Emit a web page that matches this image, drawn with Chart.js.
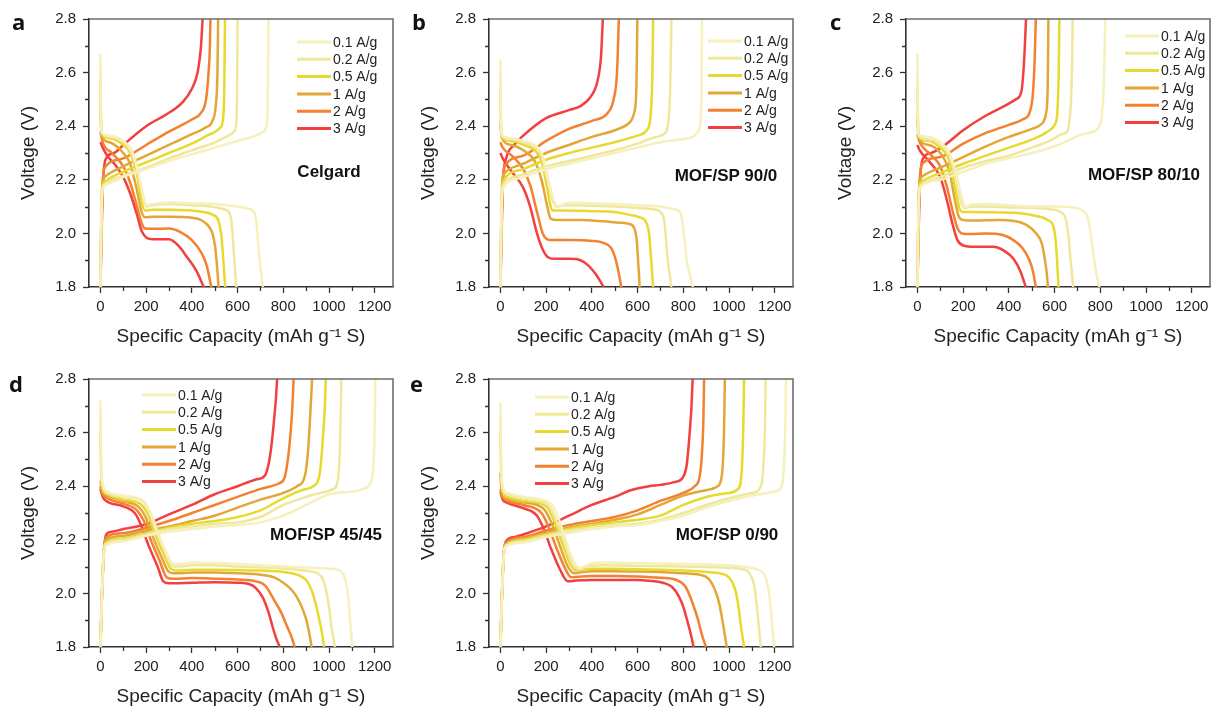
<!DOCTYPE html>
<html>
<head>
<meta charset="utf-8">
<script src="https://cdn.jsdelivr.net/npm/chart.js@4.4.1/dist/chart.umd.min.js"></script>
<style>
  html, body { margin: 0; padding: 0; background: #fff; overflow: hidden; }
  #fig { position: relative; width: 1211px; height: 709px; }
  .panel { position: absolute; width: 400px; height: 350px; }
  .letter { position: absolute; font-family: "Open Sans", sans-serif; font-weight: 700; font-size: 22px; line-height: 22px; color: #111; }
  .sample { position: absolute; font-family: "Liberation Sans", Arial, sans-serif; font-weight: 700; font-size: 17px; color: #111; transform: translate(-50%, -50%); white-space: nowrap; }
</style>
</head>
<body>
<div id="fig">
  <div class="panel" style="left:0px;top:0px"><canvas id="cA" width="400" height="350"></canvas></div>
  <div class="panel" style="left:400px;top:0px"><canvas id="cB" width="400" height="350"></canvas></div>
  <div class="panel" style="left:817px;top:0px"><canvas id="cC" width="400" height="350"></canvas></div>
  <div class="panel" style="left:0px;top:360px"><canvas id="cD" width="400" height="350"></canvas></div>
  <div class="panel" style="left:400px;top:360px"><canvas id="cE" width="400" height="350"></canvas></div>

  <div class="letter" style="left:12px;top:10px">a</div>
  <div class="letter" style="left:412px;top:10px">b</div>
  <div class="letter" style="left:830px;top:10px">c</div>
  <div class="letter" style="left:9px;top:372px">d</div>
  <div class="letter" style="left:410px;top:372px">e</div>

  <div class="sample" style="left:329px;top:172px">Celgard</div>
  <div class="sample" style="left:726px;top:176px">MOF/SP 90/0</div>
  <div class="sample" style="left:1144px;top:175px">MOF/SP 80/10</div>
  <div class="sample" style="left:326px;top:535px">MOF/SP 45/45</div>
  <div class="sample" style="left:727px;top:535px">MOF/SP 0/90</div>
</div>

<script>
const rates = ['0.1 A/g', '0.2 A/g', '0.5 A/g', '1 A/g', '2 A/g', '3 A/g'];
const xTicks = [0, 200, 400, 600, 800, 1000, 1200];
const xMinor = [100, 300, 500, 700, 900, 1100];
const yTicks = [1.8, 2.0, 2.2, 2.4, 2.6, 2.8];
const yMinor = [1.9, 2.1, 2.3, 2.5, 2.7];

// a - Celgard
const celgardDis = [
  [[0,2.67],[2,2.45],[6,2.38],[40,2.365],[100,2.345],[130,2.32],[160,2.25],[185,2.15],[200,2.105],[230,2.11],[300,2.115],[400,2.112],[500,2.11],[600,2.1],[655,2.09],[675,2.075],[685,2.02],[693,1.93],[702,1.86],[711,1.8]],
  [[0,2.62],[2,2.45],[6,2.375],[40,2.36],[100,2.34],[130,2.31],[160,2.24],[185,2.14],[200,2.1],[230,2.105],[300,2.11],[400,2.105],[480,2.1],[540,2.09],[565,2.075],[575,2.03],[582,1.95],[589,1.86],[595,1.8]],
  [[0,2.58],[2,2.43],[6,2.37],[40,2.355],[100,2.33],[130,2.3],[160,2.22],[180,2.12],[195,2.085],[230,2.088],[300,2.088],[400,2.085],[450,2.08],[490,2.07],[515,2.05],[528,2.0],[536,1.92],[541,1.86],[546,1.8]],
  [[0,2.49],[3,2.4],[8,2.36],[40,2.34],[100,2.3],[130,2.26],[160,2.16],[180,2.08],[195,2.06],[230,2.062],[300,2.062],[400,2.058],[440,2.05],[470,2.03],[490,2.0],[502,1.95],[510,1.88],[517,1.8]],
  [[0,2.38],[10,2.34],[50,2.3],[100,2.25],[130,2.19],[160,2.1],[180,2.04],[195,2.018],[230,2.017],[300,2.018],[350,2.005],[400,1.975],[440,1.93],[465,1.88],[485,1.8]],
  [[0,2.34],[10,2.32],[30,2.29],[70,2.25],[100,2.21],[130,2.15],[160,2.07],[180,2.01],[200,1.985],[230,1.978],[300,1.978],[340,1.955],[380,1.91],[420,1.86],[452,1.8]]
];
const celgardChg = [
  [[0,1.8],[3,2.0],[8,2.15],[15,2.175],[50,2.19],[100,2.21],[200,2.24],[300,2.27],[400,2.295],[500,2.32],[600,2.345],[680,2.365],[715,2.38],[728,2.41],[732,2.5],[735,2.8]],
  [[0,1.8],[3,2.0],[8,2.16],[15,2.18],[100,2.215],[200,2.245],[300,2.28],[400,2.31],[500,2.34],[560,2.365],[585,2.38],[595,2.42],[598,2.55],[600,2.8]],
  [[0,1.8],[3,2.0],[8,2.17],[15,2.19],[100,2.23],[200,2.265],[300,2.3],[400,2.335],[480,2.37],[525,2.395],[538,2.44],[542,2.55],[545,2.8]],
  [[0,1.8],[3,2.0],[8,2.18],[18,2.21],[100,2.25],[200,2.29],[300,2.33],[400,2.37],[460,2.395],[490,2.42],[505,2.48],[512,2.6],[515,2.8]],
  [[0,1.8],[4,2.0],[10,2.2],[22,2.25],[100,2.28],[200,2.33],[300,2.38],[400,2.425],[440,2.45],[462,2.5],[473,2.6],[479,2.7],[481,2.8]],
  [[0,1.8],[5,2.0],[12,2.2],[25,2.28],[60,2.3],[100,2.33],[200,2.4],[300,2.45],[360,2.49],[400,2.54],[425,2.6],[440,2.7],[447,2.8]]
];

// b - MOF/SP 90/0
const mof900Dis = [
  [[0,2.65],[2,2.45],[6,2.37],[50,2.355],[100,2.345],[150,2.33],[180,2.3],[210,2.2],[235,2.12],[250,2.1],[280,2.11],[320,2.115],[400,2.112],[500,2.11],[600,2.105],[700,2.1],[760,2.09],[785,2.08],[795,2.05],[805,1.98],[815,1.9],[828,1.85],[842,1.8]],
  [[0,2.6],[2,2.43],[6,2.365],[50,2.35],[100,2.34],[150,2.32],[180,2.29],[205,2.2],[230,2.12],[245,2.1],[280,2.105],[400,2.103],[500,2.1],[600,2.095],[670,2.09],[705,2.075],[718,2.04],[725,1.97],[732,1.9],[740,1.85],[748,1.8]],
  [[0,2.55],[2,2.42],[6,2.36],[50,2.345],[100,2.33],[150,2.31],[180,2.27],[200,2.19],[220,2.1],[230,2.085],[260,2.085],[400,2.083],[500,2.08],[560,2.07],[610,2.06],[635,2.045],[650,2.0],[658,1.92],[663,1.86],[668,1.8]],
  [[0,2.41],[5,2.36],[50,2.33],[100,2.31],[150,2.27],[180,2.2],[205,2.1],[220,2.055],[250,2.05],[350,2.05],[450,2.045],[520,2.04],[565,2.035],[585,2.02],[597,1.97],[602,1.9],[606,1.85],[609,1.8]],
  [[0,2.34],[10,2.32],[50,2.29],[100,2.24],[130,2.18],[160,2.08],[185,2.0],[205,1.978],[230,1.975],[300,1.975],[400,1.972],[450,1.965],[485,1.945],[505,1.9],[518,1.85],[529,1.8]],
  [[0,2.3],[10,2.28],[50,2.23],[100,2.17],[130,2.1],[160,2.0],[185,1.94],[210,1.91],[240,1.905],[300,1.905],[350,1.9],[385,1.88],[415,1.85],[452,1.8]]
];
const mof900Chg = [
  [[0,1.8],[3,2.0],[8,2.15],[15,2.175],[100,2.21],[200,2.24],[300,2.26],[400,2.28],[500,2.3],[600,2.32],[700,2.34],[780,2.35],[840,2.36],[865,2.38],[876,2.42],[880,2.55],[882,2.8]],
  [[0,1.8],[3,2.0],[8,2.16],[15,2.185],[100,2.22],[200,2.25],[300,2.27],[400,2.29],[500,2.31],[600,2.335],[680,2.36],[715,2.37],[735,2.42],[743,2.55],[748,2.8]],
  [[0,1.8],[3,2.0],[8,2.17],[15,2.2],[100,2.24],[200,2.275],[300,2.3],[400,2.32],[500,2.34],[600,2.365],[640,2.385],[658,2.45],[665,2.6],[668,2.8]],
  [[0,1.8],[3,2.0],[8,2.19],[18,2.225],[100,2.26],[200,2.3],[300,2.33],[400,2.36],[500,2.385],[560,2.41],[585,2.45],[595,2.55],[599,2.8]],
  [[0,1.8],[4,2.0],[10,2.2],[22,2.255],[100,2.29],[200,2.345],[300,2.39],[400,2.42],[470,2.45],[495,2.5],[510,2.6],[518,2.8]],
  [[0,1.8],[5,2.0],[12,2.2],[25,2.28],[60,2.33],[100,2.365],[200,2.43],[300,2.46],[350,2.475],[395,2.51],[425,2.57],[440,2.66],[448,2.8]]
];

// c - MOF/SP 80/10
const mof8010Dis = [
  [[0,2.67],[2,2.45],[6,2.37],[50,2.36],[100,2.34],[140,2.3],[170,2.22],[195,2.13],[210,2.1],[240,2.108],[300,2.11],[400,2.105],[500,2.1],[600,2.1],[690,2.095],[725,2.085],[745,2.06],[758,2.0],[770,1.92],[783,1.85],[796,1.8]],
  [[0,2.6],[2,2.44],[6,2.365],[50,2.35],[100,2.33],[140,2.29],[170,2.2],[190,2.12],[205,2.095],[240,2.1],[300,2.1],[400,2.097],[500,2.095],[580,2.09],[625,2.08],[650,2.05],[662,1.98],[670,1.9],[676,1.85],[681,1.8]],
  [[0,2.56],[2,2.42],[6,2.36],[50,2.345],[100,2.32],[140,2.27],[165,2.17],[185,2.09],[200,2.08],[240,2.08],[350,2.078],[450,2.075],[520,2.065],[570,2.05],[595,2.025],[605,1.97],[611,1.9],[614,1.85],[617,1.8]],
  [[0,2.43],[5,2.36],[50,2.33],[100,2.3],[140,2.23],[165,2.12],[180,2.065],[200,2.05],[250,2.048],[350,2.05],[430,2.045],[480,2.03],[520,2.0],[545,1.96],[558,1.9],[566,1.85],[571,1.8]],
  [[0,2.37],[10,2.34],[50,2.3],[100,2.25],[130,2.17],[155,2.08],[175,2.02],[195,2.0],[230,1.998],[300,2.0],[370,1.995],[420,1.975],[460,1.945],[490,1.9],[505,1.86],[518,1.8]],
  [[0,2.33],[10,2.31],[50,2.27],[100,2.21],[130,2.12],[155,2.03],[175,1.975],[200,1.955],[250,1.95],[330,1.95],[380,1.935],[420,1.905],[450,1.86],[474,1.8]]
];
const mof8010Chg = [
  [[0,1.8],[3,2.0],[8,2.15],[15,2.175],[100,2.2],[200,2.23],[300,2.26],[400,2.28],[500,2.3],[600,2.325],[680,2.355],[720,2.37],[770,2.38],[795,2.4],[808,2.45],[815,2.55],[820,2.7],[822,2.8]],
  [[0,1.8],[3,2.0],[8,2.16],[15,2.18],[100,2.21],[200,2.245],[300,2.27],[400,2.29],[500,2.32],[590,2.35],[630,2.37],[655,2.38],[665,2.42],[672,2.5],[677,2.65],[679,2.8]],
  [[0,1.8],[3,2.0],[8,2.17],[15,2.19],[100,2.225],[200,2.26],[300,2.29],[400,2.32],[500,2.35],[570,2.38],[600,2.405],[612,2.45],[618,2.6],[621,2.8]],
  [[0,1.8],[3,2.0],[8,2.18],[18,2.21],[100,2.245],[200,2.285],[300,2.325],[400,2.36],[500,2.39],[545,2.41],[563,2.45],[570,2.55],[573,2.8]],
  [[0,1.8],[4,2.0],[10,2.2],[22,2.26],[100,2.285],[200,2.335],[300,2.375],[400,2.405],[460,2.425],[490,2.45],[505,2.52],[513,2.65],[518,2.8]],
  [[0,1.8],[5,2.0],[12,2.2],[25,2.28],[60,2.3],[120,2.33],[200,2.385],[300,2.44],[380,2.475],[430,2.5],[455,2.53],[465,2.62],[470,2.7],[475,2.8]]
];

// d - MOF/SP 45/45
const mof4545Dis = [
  [[0,2.72],[3,2.5],[10,2.41],[30,2.38],[100,2.365],[190,2.345],[220,2.3],[250,2.23],[290,2.15],[320,2.11],[350,2.11],[400,2.115],[500,2.113],[600,2.11],[700,2.105],[800,2.1],[900,2.097],[1000,2.092],[1040,2.088],[1060,2.075],[1075,2.04],[1085,1.98],[1090,1.92],[1096,1.86],[1102,1.8]],
  [[0,2.68],[3,2.48],[10,2.4],[30,2.375],[100,2.36],[190,2.34],[215,2.3],[245,2.23],[285,2.15],[315,2.1],[340,2.1],[400,2.105],[500,2.105],[600,2.1],[700,2.097],[800,2.093],[900,2.085],[950,2.075],[975,2.05],[990,2.0],[1000,1.95],[1010,1.88],[1018,1.84],[1026,1.8]],
  [[0,2.6],[3,2.45],[10,2.39],[30,2.37],[100,2.35],[180,2.33],[210,2.29],[240,2.22],[280,2.14],[310,2.09],[340,2.085],[400,2.088],[500,2.088],[600,2.087],[700,2.085],[800,2.08],[860,2.07],[900,2.05],[925,2.01],[942,1.96],[958,1.9],[970,1.85],[978,1.8]],
  [[0,2.42],[10,2.38],[30,2.365],[100,2.345],[170,2.32],[200,2.28],[230,2.21],[270,2.13],[300,2.08],[330,2.075],[400,2.078],[500,2.078],[600,2.075],[700,2.07],[760,2.06],[800,2.04],[840,2.01],[870,1.97],[898,1.91],[912,1.86],[924,1.8]],
  [[0,2.4],[10,2.37],[30,2.355],[100,2.335],[160,2.31],[190,2.27],[220,2.2],[260,2.12],[290,2.06],[320,2.055],[400,2.057],[500,2.055],[600,2.052],[680,2.045],[720,2.03],[760,1.975],[790,1.93],[815,1.88],[835,1.84],[850,1.8]],
  [[0,2.39],[10,2.36],[25,2.345],[100,2.325],[150,2.3],[175,2.26],[210,2.18],[250,2.1],[275,2.045],[300,2.038],[400,2.04],[500,2.042],[600,2.04],[650,2.035],[680,2.02],[710,1.985],[735,1.93],[755,1.87],[770,1.83],[785,1.8]]
];
const mof4545Chg = [
  [[0,1.8],[5,1.95],[15,2.15],[25,2.18],[100,2.195],[200,2.215],[300,2.23],[400,2.24],[500,2.25],[600,2.255],[700,2.265],[800,2.29],[900,2.33],[1000,2.37],[1100,2.38],[1150,2.39],[1180,2.41],[1192,2.45],[1198,2.55],[1201,2.7],[1202,2.8]],
  [[0,1.8],[5,1.95],[15,2.16],[25,2.185],[100,2.2],[200,2.22],[300,2.24],[400,2.25],[500,2.26],[600,2.265],[700,2.285],[800,2.33],[900,2.36],[960,2.375],[1020,2.39],[1040,2.43],[1048,2.55],[1052,2.7],[1054,2.8]],
  [[0,1.8],[5,1.95],[15,2.16],[25,2.19],[100,2.205],[200,2.225],[300,2.245],[400,2.26],[500,2.27],[600,2.285],[700,2.31],[800,2.355],[880,2.385],[930,2.4],[960,2.45],[975,2.6],[982,2.7],[986,2.8]],
  [[0,1.8],[5,1.95],[15,2.16],[25,2.2],[100,2.215],[200,2.235],[300,2.25],[400,2.27],[500,2.29],[600,2.32],[700,2.35],[800,2.375],[860,2.4],[895,2.44],[910,2.55],[920,2.7],[926,2.8]],
  [[0,1.8],[5,1.95],[15,2.16],[25,2.21],[100,2.225],[200,2.245],[300,2.27],[400,2.3],[500,2.33],[600,2.36],[700,2.39],[780,2.41],[805,2.43],[820,2.5],[832,2.6],[840,2.7],[845,2.8]],
  [[0,1.8],[5,1.95],[15,2.15],[25,2.22],[50,2.23],[100,2.24],[200,2.258],[300,2.295],[400,2.33],[500,2.37],[600,2.4],[680,2.425],[720,2.44],[735,2.48],[748,2.55],[760,2.65],[768,2.73],[773,2.8]]
];

// e - MOF/SP 0/90
const mof090Dis = [
  [[0,2.71],[3,2.5],[10,2.4],[30,2.375],[100,2.36],[220,2.335],[250,2.29],[285,2.2],[320,2.12],[350,2.095],[390,2.11],[450,2.115],[600,2.113],[800,2.11],[1000,2.105],[1050,2.1],[1120,2.09],[1150,2.075],[1170,2.03],[1182,1.95],[1190,1.87],[1197,1.8]],
  [[0,2.66],[3,2.48],[10,2.39],[30,2.37],[100,2.355],[210,2.33],[240,2.28],[275,2.2],[315,2.11],[345,2.09],[380,2.1],[450,2.105],[600,2.103],[800,2.1],[1000,2.095],[1060,2.09],[1090,2.075],[1110,2.03],[1122,1.95],[1130,1.88],[1139,1.8]],
  [[0,2.6],[3,2.45],[10,2.38],[30,2.36],[100,2.345],[200,2.325],[230,2.28],[265,2.2],[305,2.11],[335,2.085],[370,2.09],[400,2.092],[500,2.092],[600,2.09],[700,2.088],[800,2.085],[900,2.08],[960,2.075],[1000,2.06],[1025,2.02],[1040,1.96],[1052,1.88],[1066,1.8]],
  [[0,2.45],[3,2.4],[10,2.37],[30,2.355],[100,2.34],[190,2.315],[220,2.27],[255,2.19],[295,2.1],[325,2.075],[360,2.08],[400,2.083],[500,2.083],[600,2.082],[700,2.08],[800,2.075],[870,2.07],[910,2.055],[940,2.01],[958,1.96],[975,1.88],[990,1.8]],
  [[0,2.39],[10,2.36],[30,2.345],[100,2.33],[180,2.3],[210,2.25],[245,2.17],[285,2.09],[310,2.06],[340,2.062],[400,2.065],[500,2.065],[600,2.063],[700,2.058],[770,2.05],[810,2.025],[840,1.965],[865,1.9],[880,1.85],[899,1.8]],
  [[0,2.38],[10,2.35],[26,2.34],[100,2.318],[160,2.29],[190,2.24],[220,2.17],[260,2.09],[295,2.045],[330,2.048],[400,2.05],[500,2.05],[600,2.05],[650,2.047],[710,2.04],[750,2.025],[780,1.99],[800,1.95],[820,1.89],[835,1.84],[845,1.8]]
];
const mof090Chg = [
  [[0,1.8],[5,1.95],[15,2.14],[25,2.175],[100,2.19],[200,2.21],[300,2.225],[400,2.24],[500,2.25],[600,2.255],[700,2.27],[800,2.29],[900,2.32],[1000,2.345],[1100,2.365],[1200,2.38],[1230,2.4],[1242,2.5],[1247,2.65],[1249,2.8]],
  [[0,1.8],[5,1.95],[15,2.15],[25,2.18],[100,2.195],[200,2.215],[300,2.235],[400,2.245],[500,2.255],[600,2.26],[700,2.275],[800,2.3],[900,2.33],[1000,2.355],[1100,2.375],[1140,2.4],[1152,2.5],[1158,2.65],[1160,2.8]],
  [[0,1.8],[5,1.95],[15,2.15],[25,2.18],[100,2.2],[200,2.22],[300,2.24],[400,2.255],[500,2.265],[600,2.275],[700,2.29],[800,2.33],[900,2.36],[1000,2.375],[1040,2.39],[1055,2.45],[1062,2.6],[1066,2.8]],
  [[0,1.8],[5,1.95],[15,2.15],[25,2.185],[100,2.205],[200,2.225],[300,2.245],[400,2.26],[500,2.275],[600,2.295],[700,2.33],[800,2.365],[900,2.385],[950,2.4],[970,2.45],[978,2.6],[982,2.8]],
  [[0,1.8],[5,1.95],[15,2.15],[25,2.19],[100,2.21],[200,2.235],[300,2.255],[400,2.27],[500,2.285],[600,2.31],[700,2.345],[800,2.375],[850,2.4],[870,2.43],[880,2.5],[888,2.65],[891,2.8]],
  [[0,1.8],[5,1.95],[15,2.15],[25,2.195],[60,2.21],[100,2.22],[200,2.25],[300,2.29],[400,2.33],[500,2.36],[570,2.385],[650,2.4],[700,2.405],[760,2.415],[800,2.435],[815,2.48],[828,2.6],[836,2.7],[841,2.8]]
];

const colors = ['#f6f0bd', '#f0e79b', '#e6da2e', '#e3a737', '#f3812f', '#f33f3f'];
const FONT = '"Liberation Sans", Arial, sans-serif';

// frame, minor ticks and the inside legend
const deco = {
  id: 'deco',
  afterDraw(chart, args, opts) {
    const {ctx, chartArea: a, scales: {x, y}} = chart;
    ctx.save();
    ctx.strokeStyle = '#6e6e6e';
    ctx.lineWidth = 1.6;
    ctx.beginPath();
    ctx.moveTo(a.left, a.top);
    ctx.lineTo(a.right, a.top);
    ctx.lineTo(a.right, a.bottom);
    ctx.stroke();

    ctx.strokeStyle = '#333';
    ctx.lineWidth = 1.3;
    ctx.beginPath();
    xMinor.forEach(v => {
      const px = Math.round(x.getPixelForValue(v)) + 0.5;
      ctx.moveTo(px, a.bottom);
      ctx.lineTo(px, a.bottom + 4);
    });
    yMinor.forEach(v => {
      const py = Math.round(y.getPixelForValue(v)) + 0.5;
      ctx.moveTo(a.left, py);
      ctx.lineTo(a.left - 4, py);
    });
    ctx.stroke();

    ctx.font = '14px ' + FONT;
    ctx.textBaseline = 'middle';
    ctx.fillStyle = '#222';
    rates.forEach((r, i) => {
      const ly = opts.y + i * 17.3;
      ctx.strokeStyle = colors[i];
      ctx.lineWidth = 3;
      ctx.beginPath();
      ctx.moveTo(opts.x, ly);
      ctx.lineTo(opts.x + 34, ly);
      ctx.stroke();
      ctx.fillText(r, opts.x + 36, ly + 1);
    });
    ctx.restore();
  }
};

function makePanel(id, dis, chg, legendPos) {
  const datasets = [];
  rates.forEach((r, i) => {
    [dis[i], chg[i]].forEach(curve => {
      datasets.push({
        label: r,
        data: curve.map(p => ({x: p[0], y: p[1]})),
        borderColor: colors[i],
        borderWidth: 2.5,
        pointRadius: 0,
        fill: false,
        cubicInterpolationMode: 'monotone'
      });
    });
  });

  return new Chart(document.getElementById(id), {
    type: 'line',
    data: {datasets},
    plugins: [deco],
    options: {
      responsive: false,
      animation: false,
      layout: {padding: {top: 19, right: 7, left: 0, bottom: 2}},
      plugins: {
        legend: {display: false},
        tooltip: {enabled: false},
        deco: legendPos
      },
      scales: {
        x: {
          type: 'linear',
          min: -50,
          max: 1280,
          afterBuildTicks: s => { s.ticks = xTicks.map(v => ({value: v})); },
          afterFit: s => { s.height = 61; },
          grid: {drawOnChartArea: false, drawTicks: true, tickLength: 6, tickWidth: 1.3, tickColor: '#333'},
          border: {color: '#333', width: 1.6},
          ticks: {font: {family: FONT, size: 15}, color: '#222', padding: 5, maxRotation: 0, autoSkip: false, callback: v => String(v)},
          title: {display: true, text: 'Specific Capacity (mAh g⁻¹ S)', font: {family: FONT, size: 19}, color: '#222', padding: {top: 0, bottom: 0}}
        },
        y: {
          type: 'linear',
          min: 1.8,
          max: 2.8,
          afterBuildTicks: s => { s.ticks = yTicks.map(v => ({value: v})); },
          afterFit: s => { s.width = 89; },
          grid: {drawOnChartArea: false, drawTicks: true, tickLength: 6, tickWidth: 1.3, tickColor: '#333'},
          border: {color: '#333', width: 1.6},
          ticks: {font: {family: FONT, size: 15}, color: '#222', padding: 7, callback: v => v.toFixed(1)},
          title: {display: true, text: 'Voltage (V)', font: {family: FONT, size: 19}, color: '#222', padding: {top: 17, bottom: 0}}
        }
      }
    }
  });
}

makePanel('cA', celgardDis, celgardChg, {x: 297, y: 42});
makePanel('cB', mof900Dis, mof900Chg, {x: 308, y: 41});
makePanel('cC', mof8010Dis, mof8010Chg, {x: 308, y: 36});
makePanel('cD', mof4545Dis, mof4545Chg, {x: 142, y: 35});
makePanel('cE', mof090Dis, mof090Chg, {x: 135, y: 37});
</script>
</body>
</html>
